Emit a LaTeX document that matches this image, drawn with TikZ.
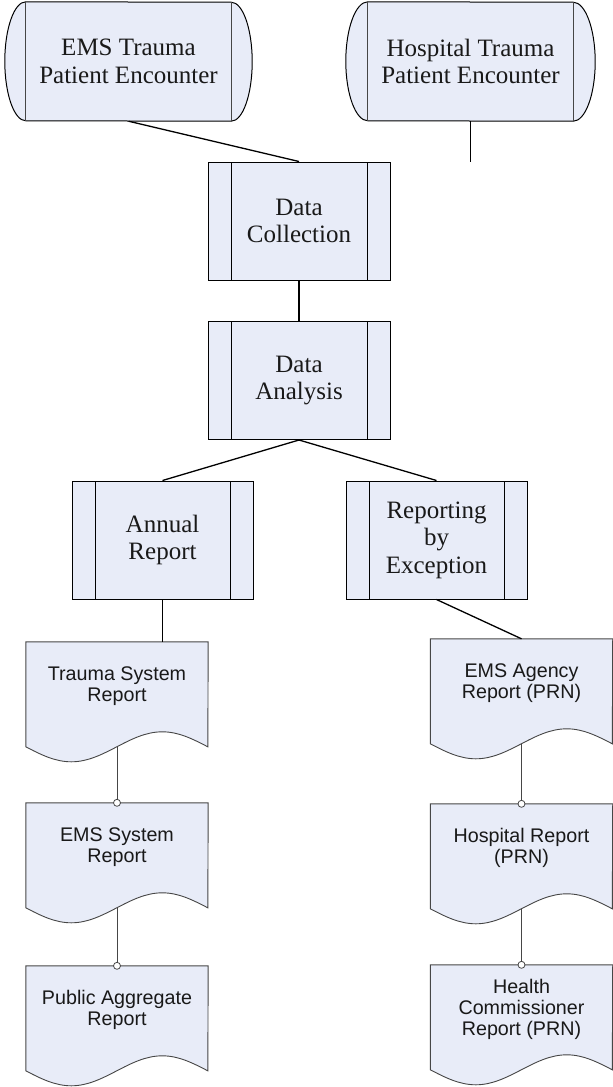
\documentclass[tikz,border=0pt]{standalone}
\usepackage{fontspec}
\setmainfont{Liberation Serif}
\setsansfont{Liberation Sans}
\usetikzlibrary{backgrounds}
\definecolor{boxfill}{RGB}{232,236,248}
\definecolor{lineGray}{RGB}{70,70,70}
\tikzset{
  base/.style={inner sep=0pt, align=center, text=black!90},
  terminal/.style={base, minimum width=205pt, minimum height=119pt,
    font=\fontsize{25}{27.5}\selectfont},
  process/.style={base, draw=black, line width=1pt, fill=boxfill,
    minimum width=#1, minimum height=118pt, font=\fontsize{25}{27.5}\selectfont,
    path picture={\draw[line width=1pt]
      ([xshift=23pt]path picture bounding box.north west) -- ([xshift=23pt]path picture bounding box.south west)
      ([xshift=-23pt]path picture bounding box.north east) -- ([xshift=-23pt]path picture bounding box.south east);}},
  document/.style={base, minimum width=182pt, minimum height=88pt,
    font=\sffamily\fontsize{19.7}{21}\selectfont},
  link/.style={line width=1.3pt, black},
  doclink/.style={line width=0.8pt, lineGray},
  docshape/.style={fill=boxfill, draw=lineGray, line width=0.9pt},
  termshape/.style={fill=boxfill, draw=black, line width=1pt}
}
\begin{document}
\begin{tikzpicture}[x=1pt,y=1pt]
\useasboundingbox (0,0) rectangle (613,-1087);
% stored data terminals
\node[terminal] (ems) at (128.5,-61.5) {EMS Trauma\\Patient Encounter};
\node[terminal] (hosp) at (470.5,-61.5) {Hospital Trauma\\Patient Encounter};
% processes
\node[process=182pt] (dc) at (299,-221) {Data\\Collection};
\node[process=182pt] (da) at (299,-380.5) {Data\\Analysis};
\node[process=181pt] (ar) at (162.5,-540) {Annual\\Report};
\node[process=181pt] (rbe) at (436.5,-540) {Reporting\\by\\Exception};
% documents
\node[document] (tsr) at (117,-686) {Trauma System\\Report};
\node[document] (esr) at (117,-847) {EMS System\\Report};
\node[document] (par) at (117,-1010) {Public Aggregate\\Report};
\node[document] (ema) at (521.5,-683) {EMS Agency\\Report (PRN)};
\node[document] (hrp) at (521.5,-848) {Hospital Report\\(PRN)};
\node[document] (hcr) at (521.5,-1009) {Health\\Commissioner\\Report (PRN)};
\begin{pgfonlayer}{background}
  \foreach \n/\r in {ems/21,hosp/22}{
    \path[termshape] (\n.north west) arc[start angle=90,end angle=270,x radius=\r,y radius=59.5]
      -- (\n.south east) arc[start angle=-90,end angle=90,x radius=\r,y radius=59.5] -- cycle;
    \draw[lineGray, line width=1pt] (\n.north west) -- (\n.south west) (\n.north east) -- (\n.south east);
  }
  \foreach \n in {tsr,esr,par,ema,hrp,hcr}{
    \path[docshape] (\n.north east) -- (\n.north west) -- ([yshift=-105pt]\n.north west)
      sin ++(45.5,-15) cos ++(45.5,15) sin ++(45.5,15) cos ++(45.5,-15) -- cycle;
  }
\end{pgfonlayer}
% connectors
\coordinate (hospend) at (470.5,-162);
\draw[link] (hosp.south) -- (hospend);
\draw[link] (ems.south) -- (dc.north);
\draw[link] (dc.south) -- (da.north);
\draw[link] (da.south) -- (ar.north);
\draw[link] (da.south) -- (rbe.north);
\draw[link] (ar.south) -- (ar.south |- tsr.north);
\draw[link] (rbe.south) -- (ema.north);
\foreach \a/\b in {tsr/esr,esr/par,ema/hrp,hrp/hcr}{
  \draw[doclink] ([yshift=-105pt]\a.north) -- (\b.north);
  \filldraw[doclink, fill=white] (\b.north) circle[radius=3.5];
}
\end{tikzpicture}
\end{document}
